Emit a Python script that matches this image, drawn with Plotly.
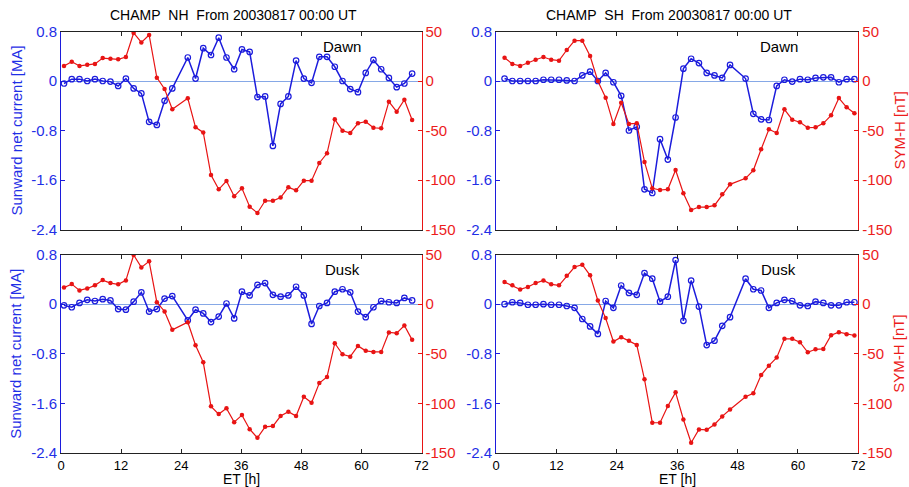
import plotly.graph_objects as go

# ---------------- data ----------------
# Epoch time [h] of each CHAMP crossing (one missing orbit in each hemisphere)
t_nh = [0.6, 2.15, 3.69, 5.24, 6.78, 8.33, 9.87, 11.42, 12.96, 14.51, 16.05, 17.6,
        19.14, 20.69, 22.23, 25.32, 26.87, 28.41, 29.96, 31.5, 33.05, 34.59, 36.14,
        37.68, 39.23, 40.77, 42.32, 43.86, 45.41, 46.95, 48.5, 50.04, 51.59, 53.13,
        54.68, 56.22, 57.77, 59.31, 60.86, 62.4, 63.95, 65.49, 67.04, 68.58, 70.13]
t_sh = [1.7, 3.25, 4.8, 6.34, 7.88, 9.43, 10.97, 12.52, 14.06, 15.61, 17.15, 18.7,
        20.24, 21.79, 23.33, 24.88, 26.42, 27.97, 29.51, 31.06, 32.6, 34.15, 35.69,
        37.24, 38.78, 40.33, 41.87, 43.42, 44.96, 46.51, 49.6, 51.14, 52.69, 54.23,
        55.78, 57.32, 58.87, 60.41, 61.96, 63.5, 65.05, 66.59, 68.14, 69.68, 71.23]

# Sunward net current [MA]
cur_nh_dawn = [-0.04, 0.03, 0.03, 0.0, 0.03, 0.0, -0.01, -0.08, 0.04, -0.12, -0.2, -0.66,
               -0.71, -0.32, -0.12, 0.38, 0.04, 0.53, 0.42, 0.7, 0.38, 0.19, 0.51, 0.47,
               -0.26, -0.25, -1.05, -0.37, -0.25, 0.33, 0.04, -0.03, 0.39, 0.39, 0.23,
               0.0, -0.13, -0.18, 0.13, 0.34, 0.19, 0.05, -0.1, -0.04, 0.12]
cur_sh_dawn = [0.04, 0.0, 0.0, 0.0, 0.0, 0.02, 0.02, 0.02, 0.01, 0.0, 0.09, 0.15, 0.0,
               0.13, -0.02, -0.24, -0.8, -0.74, -1.75, -1.81, -0.94, -1.27, -0.59, 0.2,
               0.36, 0.29, 0.13, 0.09, 0.05, 0.26, 0.04, -0.53, -0.62, -0.63, -0.08,
               0.02, -0.01, 0.03, 0.02, 0.05, 0.06, 0.06, -0.02, 0.03, 0.03]
cur_nh_dusk = [-0.02, -0.05, 0.02, 0.07, 0.05, 0.08, 0.06, -0.08, -0.09, 0.04, 0.19, -0.12,
               -0.08, 0.09, 0.13, -0.26, -0.09, -0.15, -0.29, -0.2, 0.01, -0.23, 0.2,
               0.14, 0.31, 0.34, 0.15, 0.12, 0.14, 0.28, 0.14, -0.32, -0.03, 0.02, 0.2,
               0.24, 0.19, -0.12, -0.21, -0.05, 0.05, 0.03, 0.02, 0.1, 0.06]
cur_sh_dusk = [0.0, 0.03, 0.02, -0.01, -0.01, 0.0, -0.01, -0.01, -0.03, -0.06, -0.24,
               -0.36, -0.48, 0.05, -0.06, 0.3, 0.18, 0.15, 0.5, 0.41, 0.04, 0.12, 0.71,
               -0.27, 0.38, -0.04, -0.66, -0.59, -0.35, -0.21, 0.41, 0.24, 0.22, -0.06,
               0.02, 0.07, 0.05, -0.02, -0.03, 0.04, 0.02, -0.02, -0.02, 0.03, 0.03]

# SYM-H [nT] at the same crossing times
symh_nh_dawn = [15.2, 19.5, 15.2, 16.5, 17.2, 23.2, 22.6, 21.9, 24.2, 48.5, 39, 46.5, 3.4,
                -8, -28.6, -17.5, -46.8, -51.9, -95, -109.4, -101, -116.5, -108.4, -127,
                -133.3, -121, -121, -117.8, -107.4, -110.4, -100.7, -100.7, -82.8, -73,
                -38.7, -50.2, -52.5, -42.7, -41.1, -47.2, -47.8, -20.9, -31, -18.9, -39.4]
symh_sh_dawn = [23.5, 17.2, 15.2, 18.5, 21.5, 24.2, 21.5, 20.5, 31.3, 40.7, 40.7, 25.3, 0,
                -16.8, -43.4, -21.9, -43.4, -42.8, -81.8, -108.4, -110.1, -109.4, -89.9,
                -113.4, -130.3, -127.3, -127.3, -125.6, -114.5, -104.4, -98.3, -90.2, -69,
                -48.8, -52.5, -28.6, -39.1, -41.7, -47.2, -46.8, -42.8, -34.7, -17.2,
                -26.6, -32.6]
symh_nh_dusk = [16.8, 20.2, 13.8, 15.8, 18.9, 24.2, 21.2, 19.9, 23.9, 49.5, 37, 43.1, 2,
                -7.4, -25.9, -18.2, -41.4, -58.6, -103, -110.8, -105, -118.9, -111.8, -126,
                -134.7, -123.6, -122.9, -112.8, -108.4, -112.8, -93.3, -99.3, -79.5, -73.4,
                -39.4, -50.5, -52.9, -42.1, -47.1, -48.2, -48.2, -28.6, -29.3, -21.5, -36]
symh_sh_dusk = [22.2, 18.9, 14.8, 17.2, 21.2, 23.9, 19.9, 18.9, 28.6, 37.4, 39.7, 29, 3.7,
                -14.1, -37.7, -33.3, -37, -41.1, -75.8, -119.5, -119.5, -102.7, -88.9,
                -116.2, -139.7, -126.3, -126.6, -121.2, -113.1, -106.1, -93.3, -89.9, -71.4,
                -62, -53.9, -35, -35, -38.4, -48.5, -45.5, -45.1, -31.3, -28.3, -30.3, -31.6]

x_ticks = [0, 12, 24, 36, 48, 60, 72]
x_ticktext = ["0", "12", "24", "36", "48", "60", "72"]
cur_ticks = [-2.4, -1.6, -0.8, 0, 0.8]
cur_ticktext = ["-2.4", "-1.6", "-0.8", "0", "0.8"]
symh_ticks = [-150, -100, -50, 0, 50]
symh_ticktext = ["-150", "-100", "-50", "0", "50"]

titles = ["CHAMP\u00a0\u00a0NH\u00a0\u00a0From 20030817 00:00 UT",
          "CHAMP\u00a0\u00a0SH\u00a0\u00a0From 20030817 00:00 UT"]
panel_labels = ["Dawn", "Dawn", "Dusk", "Dusk"]

# ---------------- style ----------------
W, H = 909, 487
BLUE = "#1c1cdc"
RED = "#e81414"
BLUE_TXT = "#1f2fe6"
RED_TXT = "#ec1c1c"
ZERO = "#86a8e6"
FONT = "Liberation Sans, Arial, sans-serif"

# panel geometry in pixels: (left, right, top, bottom)
px_cols = [(61, 421.5), (496, 858.3)]
px_rows = [(31.5, 229.5), (254.5, 453)]

def fx(p):
    return p / W

def fy(p):
    return 1 - p / H

panels = [
    (0, 0, t_nh, cur_nh_dawn, symh_nh_dawn),
    (0, 1, t_sh, cur_sh_dawn, symh_sh_dawn),
    (1, 0, t_nh, cur_nh_dusk, symh_nh_dusk),
    (1, 1, t_sh, cur_sh_dusk, symh_sh_dusk),
]

fig = go.Figure()
layout = dict(
    width=W, height=H, autosize=False,
    margin=dict(l=0, r=0, t=0, b=0, pad=0, autoexpand=False),
    paper_bgcolor="white", plot_bgcolor="white",
    showlegend=False,
    font=dict(family=FONT, size=14, color="black"),
)

annotations = []
for k, (row, col, t, cur, sym) in enumerate(panels):
    n = k + 1
    xa = "x" if n == 1 else f"x{n}"
    ya_l = "y" if n == 1 else f"y{2 * n - 1}"
    ya_r = f"y{2 * n}"
    xl_key = "xaxis" if n == 1 else f"xaxis{n}"
    yl_key = "yaxis" if n == 1 else f"yaxis{2 * n - 1}"
    yr_key = f"yaxis{2 * n}"
    x0, x1 = px_cols[col]
    ytop, ybot = px_rows[row]

    layout[xl_key] = dict(
        domain=[fx(x0), fx(x1)], range=[0, 72], anchor=ya_l,
        tickmode="array", tickvals=x_ticks, ticktext=x_ticktext,
        showticklabels=(row == 1), ticks="inside", ticklen=4, tickcolor="#222",
        showline=True, linecolor="#222", linewidth=1, mirror="ticks",
        showgrid=False, zeroline=False, automargin=False,
        tickfont=dict(size=13, color="black"),
    )
    layout[yl_key] = dict(
        domain=[fy(ybot), fy(ytop)], range=[-2.4, 0.8], anchor=xa, side="left",
        tickmode="array", tickvals=cur_ticks, ticktext=cur_ticktext,
        ticks="inside", ticklen=4, tickcolor=BLUE,
        showline=True, linecolor=BLUE, linewidth=1,
        showgrid=False, zeroline=True, zerolinecolor=ZERO, zerolinewidth=1,
        automargin=False,
        tickfont=dict(size=15, color=BLUE_TXT),
    )
    layout[yr_key] = dict(
        range=[-150, 50], anchor=xa, overlaying=ya_l, side="right",
        tickmode="array", tickvals=symh_ticks, ticktext=symh_ticktext,
        ticks="inside", ticklen=4, tickcolor=RED,
        showline=True, linecolor=RED, linewidth=1,
        showgrid=False, zeroline=False, automargin=False,
        tickfont=dict(size=15, color=RED_TXT),
    )

    fig.add_trace(go.Scatter(
        x=t, y=cur, xaxis=xa, yaxis=ya_l, mode="lines+markers",
        line=dict(color=BLUE, width=1.5),
        marker=dict(symbol="circle-open", size=5.5, color=BLUE, line=dict(width=1.2)),
        cliponaxis=True,
    ))
    fig.add_trace(go.Scatter(
        x=t, y=sym, xaxis=xa, yaxis=ya_r, mode="lines+markers",
        line=dict(color=RED, width=1.2),
        marker=dict(symbol="circle", size=4.5, color=RED),
        cliponaxis=True,
    ))

    # Dawn / Dusk label
    annotations.append(dict(
        text=panel_labels[k], xref=f"{xa} domain", yref=f"{ya_l} domain",
        x=0.78, y=0.925, xanchor="center", yanchor="middle", showarrow=False,
        font=dict(size=15, color="black"),
    ))

# column titles
for col in range(2):
    x0, x1 = px_cols[col]
    annotations.append(dict(
        text=titles[col], xref="paper", yref="paper",
        x=fx((x0 + x1) / 2 - 8), y=fy(15), xanchor="center", yanchor="middle",
        showarrow=False, font=dict(size=14, color="black"),
    ))
    # x-axis title
    annotations.append(dict(
        text="ET [h]", xref="paper", yref="paper",
        x=fx((x0 + x1) / 2), y=fy(479), xanchor="center", yanchor="middle",
        showarrow=False, font=dict(size=14, color="black"),
    ))

# y-axis titles (outer sides only)
for row in range(2):
    ytop, ybot = px_rows[row]
    annotations.append(dict(
        text="Sunward net current [MA]", xref="paper", yref="paper",
        x=fx(16), y=fy((ytop + ybot) / 2), xanchor="center", yanchor="middle",
        textangle=-90, showarrow=False, font=dict(size=15, color=BLUE_TXT),
    ))
    annotations.append(dict(
        text="SYM-H [nT]", xref="paper", yref="paper",
        x=fx(899), y=fy((ytop + ybot) / 2), xanchor="center", yanchor="middle",
        textangle=-90, showarrow=False, font=dict(size=15, color=RED_TXT),
    ))

layout["annotations"] = annotations
fig.update_layout(**layout)
fig.write_html(
    "out.html",
    config={"displayModeBar": False},
    post_script="document.body.style.margin='0';document.body.style.padding='0';"
                "document.body.style.overflow='hidden';",
)
